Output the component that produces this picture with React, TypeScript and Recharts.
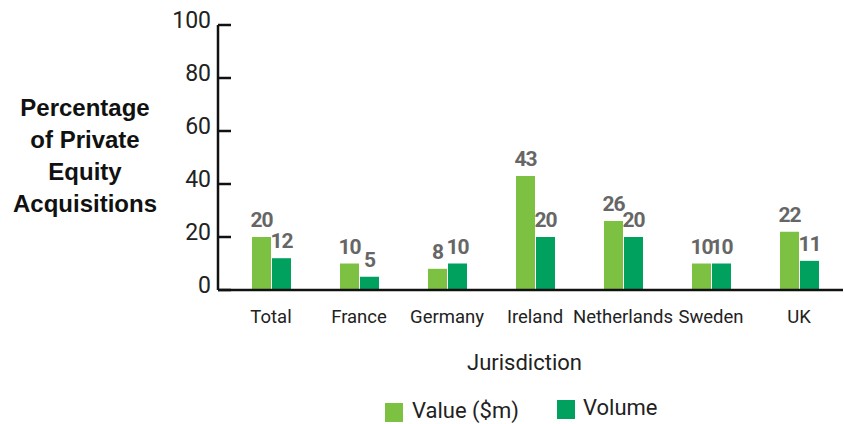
import { BarChart, Bar, XAxis, YAxis, LabelList } from "recharts";

const jurisdictions = ["Total", "France", "Germany", "Ireland", "Netherlands", "Sweden", "UK"];
const valueShare = [20, 10, 8, 43, 26, 10, 22];
const volumeShare = [12, 5, 10, 20, 20, 10, 11];
const yTicks = [0, 20, 40, 60, 80, 100];

const titleLines = ["Percentage", "of Private", "Equity", "Acquisitions"];

const VALUE_COLOR = "#7DC143";
const VOLUME_COLOR = "#00A15E";
const AXIS_COLOR = "#111";
const NUM_FONT = "Roboto, 'Liberation Sans', sans-serif";

const data = jurisdictions.map((name, i) => ({
  name,
  value: valueShare[i],
  volume: volumeShare[i],
}));

// y ticks point inward, labels sit to the left of the axis line
const YTick = ({ x, y, payload }: any) => (
  <g>
    <line x1={x} x2={x + 13} y1={y} y2={y} stroke={AXIS_COLOR} strokeWidth={2.5} />
    <text x={x - 7} y={y} dy={3} textAnchor="end" fontSize={23} fill="#222" fontFamily={NUM_FONT}>
      {payload.value}
    </text>
  </g>
);

const XTick = ({ x, y, payload }: any) => (
  <text x={x} y={y + 33} textAnchor="middle" fontSize={18.5} fill="#222" fontFamily={NUM_FONT}>
    {payload.value}
  </text>
);

const AxisTitle = () => (
  <text
    x={85}
    y={116}
    textAnchor="middle"
    fontSize={24}
    fontWeight="bold"
    fill="#111"
    fontFamily="'Liberation Sans', Arial, sans-serif"
  >
    {titleLines.map((line, i) => (
      <tspan key={line} x={85} dy={i === 0 ? 0 : 32}>
        {line}
      </tspan>
    ))}
  </text>
);

const barLabel = {
  position: "top" as const,
  offset: 10,
  fill: "#666",
  fontSize: 21,
  fontWeight: "bold",
  letterSpacing: -1,
  fontFamily: NUM_FONT,
};

const legendItems = [
  { label: "Value ($m)", color: VALUE_COLOR, left: 385, top: 403, textLeft: 412 },
  { label: "Volume", color: VOLUME_COLOR, left: 557, top: 400, textLeft: 583 },
];

export default function App() {
  return (
    <div style={{ position: "absolute", left: 0, top: 0, width: 844, height: 424, background: "#fff" }}>
      <BarChart
        width={844}
        height={424}
        data={data}
        margin={{ top: 25, right: 1, bottom: 0, left: 0 }}
        barSize={19}
        barGap={1}
      >
        <XAxis
          dataKey="name"
          height={134}
          padding={{ left: 9, right: 0 }}
          axisLine={{ stroke: AXIS_COLOR, strokeWidth: 2.5 }}
          tickLine={false}
          tickSize={0}
          tickMargin={0}
          tick={<XTick />}
          interval={0}
          label={{
            value: "Jurisdiction",
            position: "insideBottom",
            offset: 54,
            dx: -6,
            fontSize: 22,
            fill: "#222",
            fontFamily: NUM_FONT,
          }}
        />
        <YAxis
          width={218}
          domain={[0, 100]}
          ticks={yTicks}
          axisLine={{ stroke: AXIS_COLOR, strokeWidth: 2.5 }}
          tickLine={false}
          tickSize={0}
          tickMargin={0}
          tick={<YTick />}
          label={{ content: () => <AxisTitle /> }}
        />
        <Bar dataKey="value" name="Value ($m)" fill={VALUE_COLOR} isAnimationActive={false}>
          <LabelList dataKey="value" {...barLabel} />
        </Bar>
        <Bar dataKey="volume" name="Volume" fill={VOLUME_COLOR} isAnimationActive={false}>
          <LabelList dataKey="volume" {...barLabel} />
        </Bar>
      </BarChart>
      {legendItems.map((item) => (
        <div key={item.label}>
          <div
            style={{
              position: "absolute",
              left: item.left,
              top: item.top,
              width: 18,
              height: 19,
              background: item.color,
            }}
          />
          <div
            style={{
              position: "absolute",
              left: item.textLeft,
              top: item.top - 5,
              fontSize: 22,
              lineHeight: "26px",
              color: "#222",
              fontFamily: NUM_FONT,
            }}
          >
            {item.label}
          </div>
        </div>
      ))}
    </div>
  );
}
